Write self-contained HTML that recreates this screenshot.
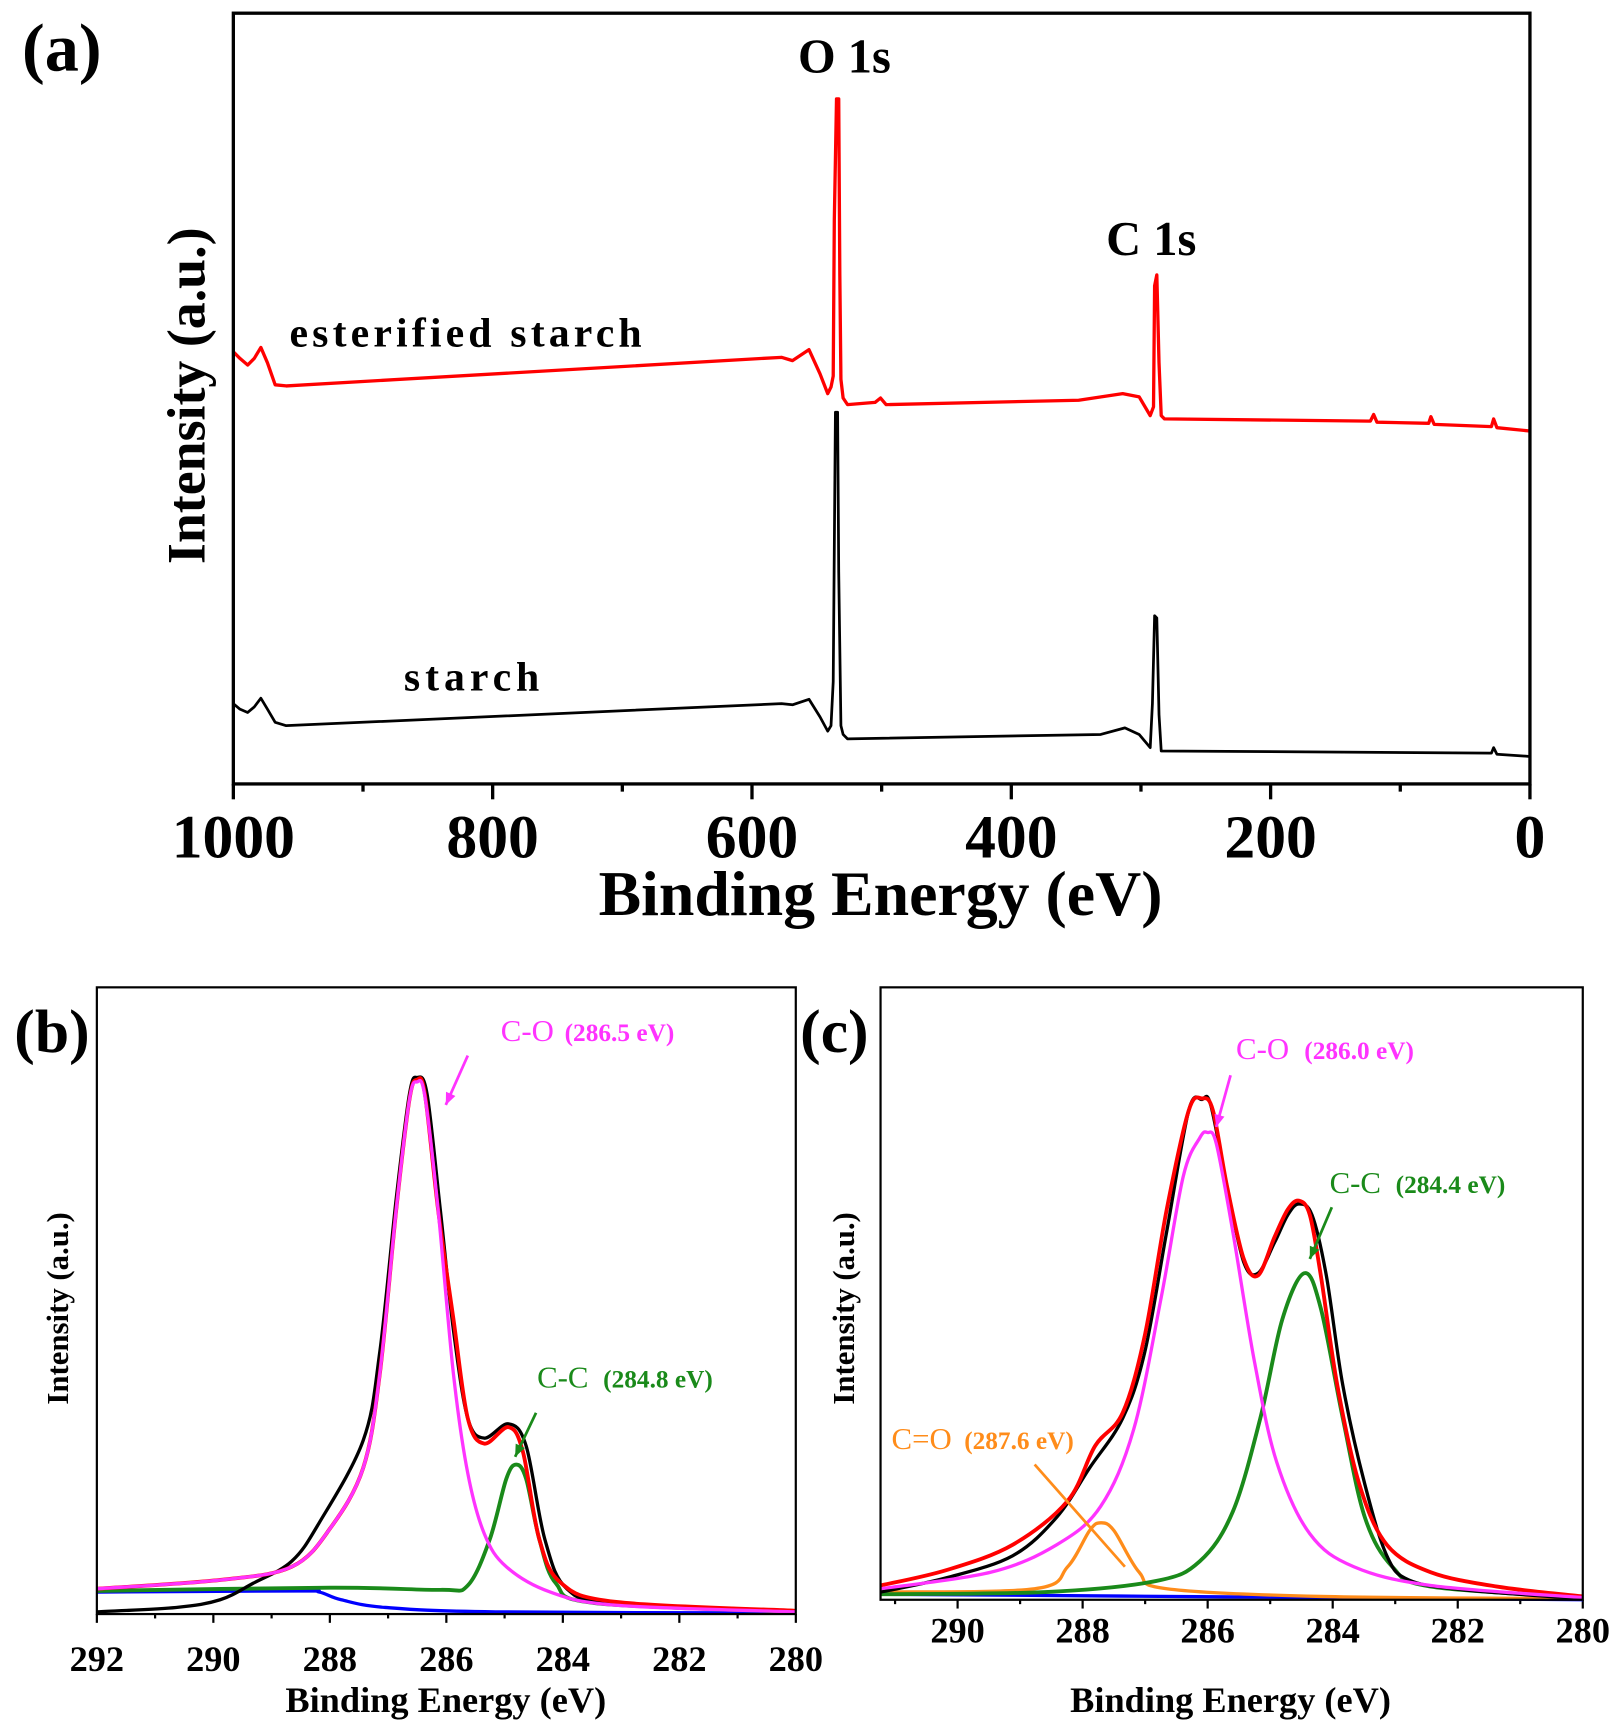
<!DOCTYPE html>
<html><head><meta charset="utf-8"><style>
html,body{margin:0;padding:0;background:#fff;}
svg{display:block;}
text{font-family:"Liberation Serif",serif;}
</style></head><body>
<svg id="s" width="1618" height="1724" viewBox="0 0 1470 1568" preserveAspectRatio="none" xmlns="http://www.w3.org/2000/svg">
<rect width="1470" height="1568" fill="#fff"/>
<g id="g"></g>
<!-- panel a -->
<rect x="212" y="12" width="1178" height="701" fill="none" stroke="#000" stroke-width="3"/>
<text x="20" y="64" font-size="62" font-weight="bold">(a)</text>
<text transform="translate(186,360) rotate(-90)" text-anchor="middle" font-size="49" font-weight="bold">Intensity (a.u.)</text>
<g font-size="56" font-weight="bold" text-anchor="middle">
<text x="212" y="780">1000</text><text x="447.6" y="780">800</text><text x="683.2" y="780">600</text>
<text x="918.8" y="780">400</text><text x="1154.4" y="780">200</text><text x="1390" y="780">0</text>
</g>
<text x="800" y="832" font-size="58" font-weight="bold" text-anchor="middle">Binding Energy (eV)</text>
<text x="263" y="315" font-size="38" font-weight="bold" textLength="320">esterified starch</text>
<text x="367" y="628" font-size="38" font-weight="bold" textLength="123">starch</text>
<text x="725" y="66" font-size="44" font-weight="bold">O 1s</text>
<text x="1005" y="232" font-size="44" font-weight="bold">C 1s</text>
<!-- panel b -->
<rect x="88" y="898" width="635" height="570" fill="none" stroke="#000" stroke-width="2"/>
<text x="13" y="957" font-size="56" font-weight="bold">(b)</text>
<text transform="translate(62,1190) rotate(-90)" text-anchor="middle" font-size="28" font-weight="bold">Intensity (a.u.)</text>
<text x="405" y="1557" font-size="33" font-weight="bold" text-anchor="middle">Binding Energy (eV)</text>
<text x="455" y="947" font-size="28" fill="#ff33ff">C-O</text>
<text x="513" y="947" font-size="23" font-weight="bold" fill="#ff33ff">(286.5 eV)</text>
<text x="488" y="1262" font-size="28" fill="#1a8a1a">C-C</text>
<text x="548" y="1262" font-size="23" font-weight="bold" fill="#1a8a1a">(284.8 eV)</text>
<!-- panel c -->
<rect x="800" y="898" width="638" height="557" fill="none" stroke="#000" stroke-width="2"/>
<text x="727" y="957" font-size="56" font-weight="bold">(c)</text>
<text transform="translate(776,1190) rotate(-90)" text-anchor="middle" font-size="28" font-weight="bold">Intensity (a.u.)</text>
<text x="1118" y="1557" font-size="33" font-weight="bold" text-anchor="middle">Binding Energy (eV)</text>
<text x="1123" y="963" font-size="28" fill="#ff33ff">C-O</text>
<text x="1185" y="963" font-size="23" font-weight="bold" fill="#ff33ff">(286.0 eV)</text>
<text x="1208" y="1085" font-size="28" fill="#1a8a1a">C-C</text>
<text x="1268" y="1085" font-size="23" font-weight="bold" fill="#1a8a1a">(284.4 eV)</text>
<text x="810" y="1318" font-size="28" fill="#ff8c1a">C=O</text>
<text x="876" y="1318" font-size="23" font-weight="bold" fill="#ff8c1a">(287.6 eV)</text>
</svg>
<script>
var NS="http://www.w3.org/2000/svg",G=document.getElementById('g');
function el(t,a){var e=document.createElementNS(NS,t);for(var k in a)e.setAttribute(k,a[k]);G.appendChild(e);return e;}
function smooth(p){var d="M"+p[0][0]+","+p[0][1];for(var i=0;i<p.length-1;i++){var p0=p[i-1]||p[i],p1=p[i],p2=p[i+1],p3=p[i+2]||p2;
var c1x=p1[0]+(p2[0]-p0[0])/6,c1y=p1[1]+(p2[1]-p0[1])/6,c2x=p2[0]-(p3[0]-p1[0])/6,c2y=p2[1]-(p3[1]-p1[1])/6;
d+=" C"+c1x.toFixed(1)+","+c1y.toFixed(1)+" "+c2x.toFixed(1)+","+c2y.toFixed(1)+" "+p2[0]+","+p2[1];}return d;}
function curve(p,c,w){el('path',{d:smooth(p),fill:'none',stroke:c,'stroke-width':w,'stroke-linejoin':'round'});}
function poly(p,c,w){el('polyline',{points:p.map(function(q){return q.join(',')}).join(' '),fill:'none',stroke:c,'stroke-width':w,'stroke-linejoin':'round'});}
for(var v=0;v<=1000;v+=100){var x=212+(1000-v)*1.178;el('line',{x1:x,y1:713,x2:x,y2:v%200==0?727:720,stroke:'#000','stroke-width':3});}
var red=[[212,320],[218,326],[225,332],[231,326],[237,316],[243,330],[250,350],[260,351],[710,325],[720,328],[735,318],[745,340],[752,358],[755,352],[757,342],[758,200],[760,90],[762,90],[763,250],[764,345],[766,362],[770,368],[795,366],[800,362],[805,368],[980,364],[1020,358],[1035,361],[1045,378],[1048,370],[1049,260],[1051,250],[1053,330],[1055,378],[1058,381],[1245,383],[1248,377],[1251,384],[1298,385],[1300,379],[1303,386],[1355,388],[1357,381],[1360,389],[1390,392]];
var blk=[[212,640],[218,645],[225,648],[231,643],[237,635],[243,645],[250,657],[260,660],[710,640],[720,641],[735,636],[745,652],[752,665],[755,660],[757,620],[759,375],[761,375],[762,520],[764,660],[766,668],[770,672],[1000,668],[1022,662],[1035,668],[1045,680],[1047,640],[1049,560],[1051,562],[1053,650],[1055,683],[1355,685],[1357,680],[1360,686],[1390,688]];
poly(red,'#ff0000',3);poly(blk,'#000',2.5);
function xb(E){return 88+(292-E)*52.92;}
for(var E=280;E<=292;E++){var x=xb(E);el('line',{x1:x,y1:1468,x2:x,y2:E%2==0?1476:1472,stroke:'#000','stroke-width':2});}
for(var E=280;E<=292;E+=2){var t=el('text',{x:xb(E),y:1520,'font-size':33,'font-weight':'bold','text-anchor':'middle'});t.textContent=E;}
curve([[88,1448],[270,1447],[290,1448],[310,1455],[350,1462],[450,1466],[723,1467]],'#0000ff',3);
curve([[88,1447],[300,1444],[400,1446],[425,1442],[445,1400],[460,1345],[469,1332],[478,1345],[490,1400],[505,1440],[540,1458],[723,1466]],'#1a8a1a',3.5);
curve([[88,1466],[160,1462],[200,1455],[230,1440],[265,1420],[290,1385],[330,1310],[345,1230],[360,1090],[372,995],[379,980],[388,995],[400,1100],[412,1210],[425,1290],[440,1308],[462,1295],[478,1315],[495,1400],[515,1445],[560,1458],[723,1465]],'#000',3);
curve([[88,1445],[200,1437],[265,1425],[300,1390],[330,1335],[345,1250],[360,1100],[372,1000],[379,982],[386,995],[398,1100],[412,1200],[425,1290],[440,1313],[462,1298],[475,1320],[490,1400],[510,1440],[560,1457],[723,1465]],'#ff0000',3.5);
curve([[88,1445],[200,1437],[265,1425],[300,1390],[330,1335],[345,1250],[360,1100],[372,1000],[379,984],[386,997],[398,1100],[412,1250],[425,1340],[440,1395],[460,1425],[500,1448],[560,1460],[723,1466]],'#ff33ff',3);
function arrow(x1,y1,x2,y2,c){el('line',{x1:x1,y1:y1,x2:x2,y2:y2,stroke:c,'stroke-width':2.5});var a=Math.atan2(y2-y1,x2-x1),L=12;
el('polygon',{points:x2+','+y2+' '+(x2-L*Math.cos(a-0.4))+','+(y2-L*Math.sin(a-0.4))+' '+(x2-L*Math.cos(a+0.4))+','+(y2-L*Math.sin(a+0.4)),fill:c});}
arrow(425,960,405,1005,'#ff33ff');arrow(487,1285,468,1325,'#1a8a1a');
function xc(E){return 870+(290-E)*56.8;}
for(var E=280;E<=291;E++){var x=xc(E);if(x<800)continue;el('line',{x1:x,y1:1455,x2:x,y2:E%2==0?1463:1459,stroke:'#000','stroke-width':2});}
for(var E=280;E<=290;E+=2){var t=el('text',{x:xc(E),y:1494,'font-size':33,'font-weight':'bold','text-anchor':'middle'});t.textContent=E;}
curve([[800,1450],[1200,1453],[1438,1455]],'#0000ff',3);
curve([[800,1448],[940,1445],[970,1425],[990,1392],[1000,1385],[1012,1392],[1035,1430],[1060,1445],[1200,1452],[1438,1454]],'#ff8c1a',3);
curve([[800,1450],[950,1448],[1050,1438],[1090,1420],[1120,1375],[1145,1290],[1165,1200],[1185,1158],[1200,1190],[1220,1290],[1240,1380],[1265,1425],[1300,1443],[1438,1453]],'#1a8a1a',3.5);
curve([[800,1448],[860,1435],[920,1415],[960,1380],[990,1335],[1020,1290],[1040,1230],[1060,1120],[1080,1010],[1092,1000],[1100,1005],[1115,1080],[1130,1148],[1143,1158],[1158,1130],[1170,1105],[1180,1095],[1192,1105],[1205,1160],[1220,1260],[1240,1350],[1260,1415],[1280,1437],[1330,1446],[1438,1454]],'#000',3);
curve([[800,1442],[860,1428],[920,1405],[970,1365],[995,1315],[1020,1285],[1040,1215],[1060,1100],[1080,1010],[1092,999],[1102,1010],[1115,1080],[1130,1145],[1143,1160],[1158,1125],[1170,1100],[1180,1092],[1190,1105],[1200,1160],[1215,1260],[1235,1350],[1260,1405],[1300,1430],[1360,1443],[1438,1452]],'#ff0000',3.5);
curve([[800,1445],[900,1430],[960,1405],[1000,1370],[1030,1300],[1055,1180],[1075,1070],[1090,1035],[1097,1030],[1105,1040],[1120,1120],[1140,1240],[1160,1330],[1190,1395],[1230,1425],[1300,1442],[1438,1453]],'#ff33ff',3);
arrow(1118,978,1105,1025,'#ff33ff');arrow(1210,1098,1190,1145,'#1a8a1a');
el('line',{x1:940,y1:1332,x2:1022,y2:1425,stroke:'#ff8c1a','stroke-width':2.5});
</script>
</body></html>
